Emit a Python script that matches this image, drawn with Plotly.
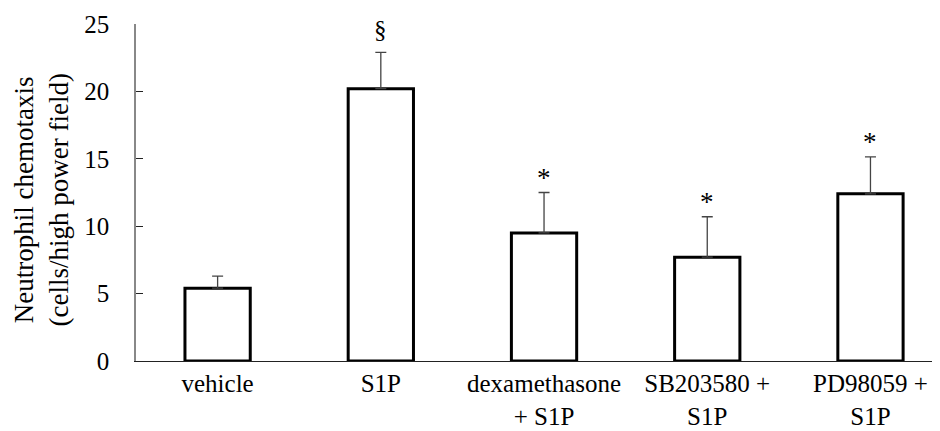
import plotly.graph_objects as go

categories = ["vehicle", "S1P", "dexamethasone<br>+ S1P", "SB203580 +<br>S1P", "PD98059 +<br>S1P"]
values = [5.4, 20.2, 9.5, 7.7, 12.4]
errors = [0.9, 2.7, 3.0, 3.0, 2.75]
marks = ["", "§", "*", "*", "*"]
y_ticks = [0, 5, 10, 15, 20, 25]
y_title = "Neutrophil chemotaxis<br>(cells/high power field)"

FONT = "Liberation Serif, Times New Roman, serif"

fig = go.Figure()
fig.add_trace(go.Bar(
    x=list(range(len(categories))), y=values,
    width=0.4,
    marker=dict(color="white", line=dict(color="black", width=3)),
    error_y=dict(type="data", array=errors, arrayminus=[0]*len(errors),
                 symmetric=False, color="#444", thickness=1.3, width=5.5),
))

for i, (v, e, m) in enumerate(zip(values, errors, marks)):
    if m:
        fig.add_annotation(x=i, y=v + e, text=m, showarrow=False,
                           yanchor="bottom", yshift=7 if m == "§" else -2,
                           font=dict(family=FONT, size=25 if m == "§" else 27, color="black"))

fig.add_annotation(xref="paper", yref="paper", x=0, y=0.5, xshift=-95, yshift=-8,
                   xanchor="center", yanchor="middle", textangle=-90,
                   text=y_title, showarrow=False,
                   font=dict(family=FONT, size=27, color="black"))

fig.update_layout(
    width=932, height=423,
    margin=dict(l=128, r=0, t=16, b=70, autoexpand=False),
    plot_bgcolor="white", paper_bgcolor="white",
    showlegend=False,
    font=dict(family=FONT, size=25, color="black"),
    xaxis=dict(
        range=[-0.5, 4.426], tickmode="array",
        tickvals=list(range(len(categories))), ticktext=categories,
        showline=True, linecolor="#222", linewidth=1.3,
        showgrid=False, zeroline=False, ticks="",
        tickfont=dict(family=FONT, size=25, color="black"),
        automargin=False,
    ),
    yaxis=dict(
        range=[0, 25], tickvals=y_ticks,
        showline=True, linecolor="#888", linewidth=1.5,
        ticks="inside", ticklen=7, tickcolor="#222", tickwidth=1,
        showgrid=False, zeroline=False,
        tickfont=dict(family=FONT, size=25, color="black"),
        ticklabelstandoff=20,
        automargin=False,
    ),
)

fig.write_html("out.html")
